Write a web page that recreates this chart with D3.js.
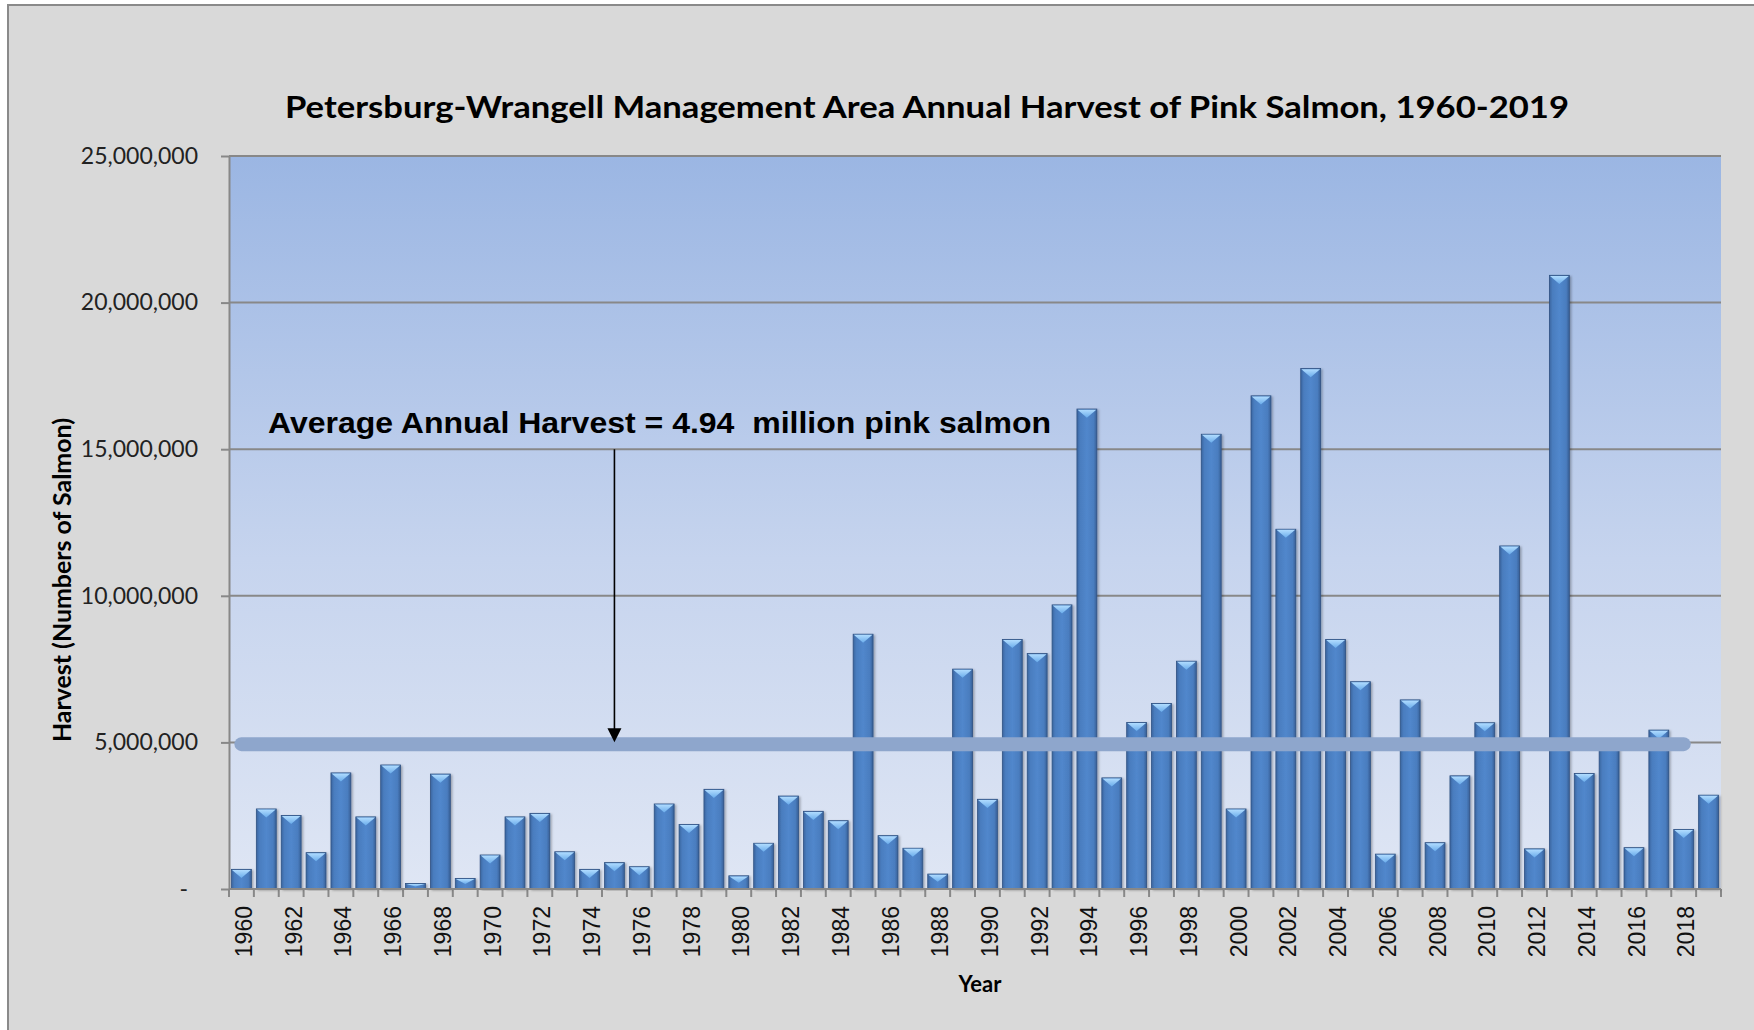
<!DOCTYPE html>
<html>
<head>
<meta charset="utf-8">
<script src="https://cdn.jsdelivr.net/npm/d3@7"></script>
<style>
    body { margin: 0; background: #fff; }
    svg { display: block; }
</style>
</head>
<body>
<svg id="chart" width="1754" height="1030"></svg>
<script>
// harvest of pink salmon
const years = d3.range(1960, 2020);
const harvest = [
    670000, 2730000, 2510000, 1240000, 3960000, 2460000, 4230000, 190000, 3920000, 360000,
    1160000, 2460000, 2580000, 1270000, 670000, 900000, 760000, 2900000, 2200000, 3400000,
    450000, 1560000, 3170000, 2650000, 2330000, 8690000, 1820000, 1390000, 510000, 7500000,
    3060000, 8510000, 8030000, 9690000, 16370000, 3790000, 5680000, 6330000, 7770000, 15510000,
    2730000, 16820000, 12270000, 17750000, 8510000, 7070000, 1190000, 6450000, 1580000, 3860000,
    5670000, 11700000, 1370000, 20930000, 3940000, 5050000, 1410000, 5420000, 2030000, 3200000
];
const yTicks = [0, 5000000, 10000000, 15000000, 20000000, 25000000];
const yTickLabels = ["-", "5,000,000", "10,000,000", "15,000,000", "20,000,000", "25,000,000"];
const xTickLabels = years.filter(yr => yr % 2 === 0);

const averageHarvest = 4940000;
const arrowYear = 1975;
const arrowFrom = 15000000;
const titleText = "Petersburg-Wrangell Management Area Annual Harvest of Pink Salmon, 1960-2019";
const noteText = "Average Annual Harvest = 4.94  million pink salmon";

const plotLeft = 229, plotRight = 1721, plotTop = 156, plotBottom = 889;
const grey = "#888888";
const calibri = "Lato, 'Open Sans', sans-serif";
const arial = "'Liberation Sans', Arial, sans-serif";

const svg = d3.select("#chart");
const defs = svg.append("defs");

const plotBg = defs.append("linearGradient").attr("id", "plotBg")
    .attr("x1", 0).attr("y1", 0).attr("x2", 0).attr("y2", 1);
plotBg.append("stop").attr("offset", "0%").attr("stop-color", "#9bb6e3");
plotBg.append("stop").attr("offset", "55%").attr("stop-color", "#c6d4ee");
plotBg.append("stop").attr("offset", "100%").attr("stop-color", "#dfe6f4");

const barFill = defs.append("linearGradient").attr("id", "barFill")
    .attr("x1", 0).attr("y1", 0).attr("x2", 1).attr("y2", 0);
barFill.append("stop").attr("offset", "0%").attr("stop-color", "#3a659f");
barFill.append("stop").attr("offset", "16%").attr("stop-color", "#4a7dbf");
barFill.append("stop").attr("offset", "50%").attr("stop-color", "#5187cc");
barFill.append("stop").attr("offset", "84%").attr("stop-color", "#4a7dbf");
barFill.append("stop").attr("offset", "100%").attr("stop-color", "#375f96");

const bevel = defs.append("linearGradient").attr("id", "bevel")
    .attr("x1", 0).attr("y1", 0).attr("x2", 0).attr("y2", 1);
bevel.append("stop").attr("offset", "0%").attr("stop-color", "#b0dcff");
bevel.append("stop").attr("offset", "100%").attr("stop-color", "#6aaceb");

const shadow = defs.append("filter").attr("id", "shadow")
    .attr("x", "-30%").attr("y", "-5%").attr("width", "160%").attr("height", "110%");
shadow.append("feDropShadow").attr("dx", 1.5).attr("dy", 1).attr("stdDeviation", 1.2)
    .attr("flood-color", "#000").attr("flood-opacity", 0.3);

// chart panel
svg.append("rect")
    .attr("x", 8).attr("y", 5).attr("width", 1770).attr("height", 1050)
    .attr("fill", "#d9d9d9").attr("stroke", "#8a8a8a").attr("stroke-width", 2);

const x = d3.scaleBand().domain(years).range([plotLeft, plotRight])
    .paddingInner(0.2).paddingOuter(0.1);
const y = d3.scaleLinear().domain([0, 25000000]).range([plotBottom, plotTop]);
const bw = x.bandwidth();
const gap = x.step() * x.paddingInner() / 2;

svg.append("rect")
    .attr("x", plotLeft).attr("y", plotTop)
    .attr("width", plotRight - plotLeft).attr("height", plotBottom - plotTop)
    .attr("fill", "url(#plotBg)");

svg.append("g").selectAll("line")
    .data(yTicks.slice(1))
    .join("line")
    .attr("x1", plotLeft).attr("x2", plotRight)
    .attr("y1", d => y(d)).attr("y2", d => y(d))
    .attr("stroke", grey).attr("stroke-width", 2);

// y axis
const yAxis = svg.append("g")
    .attr("transform", `translate(${plotLeft},0)`)
    .call(d3.axisLeft(y).tickValues(yTicks)
        .tickFormat((d, i) => yTickLabels[i])
        .tickSize(8).tickSizeOuter(0).tickPadding(23));
yAxis.select(".domain").attr("stroke", grey).attr("stroke-width", 2);
yAxis.selectAll(".tick line").attr("stroke", grey).attr("stroke-width", 2);
yAxis.selectAll(".tick text")
    .attr("font-family", calibri).attr("font-size", 23).attr("fill", "#222")
    .attr("dx", d => d === 0 ? -10 : 0);

// x axis: ticks between categories
svg.append("g").selectAll("line")
    .data(years.concat([null]))
    .join("line")
    .attr("x1", d => d === null ? plotRight : x(d) - gap)
    .attr("x2", d => d === null ? plotRight : x(d) - gap)
    .attr("y1", plotBottom).attr("y2", plotBottom + 8)
    .attr("stroke", grey).attr("stroke-width", 2);

svg.append("g").selectAll("text")
    .data(xTickLabels)
    .join("text")
    .attr("transform", d => `translate(${x(d) + bw / 2},906) rotate(-90)`)
    .attr("text-anchor", "end")
    .attr("dy", "0.46em")
    .attr("font-family", arial).attr("font-size", 23).attr("fill", "#111")
    .text(d => d);

// bars
const bars = svg.append("g").selectAll("g")
    .data(years.map((yr, i) => ({ year: yr, value: harvest[i] })))
    .join("g");

bars.append("rect")
    .attr("x", d => x(d.year))
    .attr("y", d => y(d.value))
    .attr("width", bw)
    .attr("height", d => plotBottom - y(d.value))
    .attr("fill", "url(#barFill)")
    .attr("stroke", "#2f5283").attr("stroke-width", 0.8)
    .attr("filter", "url(#shadow)");

bars.append("path")
    .attr("d", d => {
        const x0 = x(d.year) + 0.6, x1 = x(d.year) + bw - 0.6, t = y(d.value) + 0.6;
        const depth = Math.min(8, (plotBottom - t) * 0.5);
        return `M${x0},${t}L${x1},${t}L${(x0 + x1) / 2},${t + depth}Z`;
    })
    .attr("fill", "url(#bevel)");

svg.append("line")
    .attr("x1", plotLeft).attr("x2", plotRight).attr("y1", plotBottom).attr("y2", plotBottom)
    .attr("stroke", grey).attr("stroke-width", 2);

// average line
svg.append("line")
    .attr("x1", x(1960) + bw / 2).attr("x2", x(2018) + bw / 2)
    .attr("y1", y(averageHarvest)).attr("y2", y(averageHarvest))
    .attr("stroke", "#8ea6cc").attr("stroke-width", 14)
    .attr("stroke-linecap", "round");

// annotation
const ax = x(arrowYear) + bw / 2;
const tip = y(averageHarvest) - 2;
svg.append("line")
    .attr("x1", ax).attr("x2", ax)
    .attr("y1", y(arrowFrom)).attr("y2", tip - 10)
    .attr("stroke", "#000").attr("stroke-width", 1.6);
svg.append("path")
    .attr("d", `M${ax - 7},${tip - 14}L${ax + 7},${tip - 14}L${ax},${tip}Z`)
    .attr("fill", "#000");

svg.append("text")
    .attr("x", plotLeft + 39).attr("y", y(arrowFrom) - 16)
    .attr("font-family", arial).attr("font-weight", "bold").attr("font-size", 30)
    .attr("fill", "#000")
    .style("white-space", "pre")
    .attr("textLength", 783).attr("lengthAdjust", "spacingAndGlyphs")
    .text(noteText);

// titles
svg.append("text")
    .attr("x", 927).attr("y", 118)
    .attr("text-anchor", "middle")
    .attr("font-family", calibri).attr("font-weight", "bold").attr("font-size", 30)
    .attr("fill", "#000")
    .attr("textLength", 1284).attr("lengthAdjust", "spacingAndGlyphs")
    .text(titleText);

svg.append("text")
    .attr("transform", "translate(71,580) rotate(-90)")
    .attr("text-anchor", "middle")
    .attr("font-family", calibri).attr("font-weight", "bold").attr("font-size", 24)
    .attr("fill", "#000")
    .attr("textLength", 324).attr("lengthAdjust", "spacingAndGlyphs")
    .text("Harvest (Numbers of Salmon)");

svg.append("text")
    .attr("x", 980).attr("y", 992)
    .attr("text-anchor", "middle")
    .attr("font-family", calibri).attr("font-weight", "bold").attr("font-size", 22)
    .attr("fill", "#000")
    .text("Year");
</script>
</body>
</html>
